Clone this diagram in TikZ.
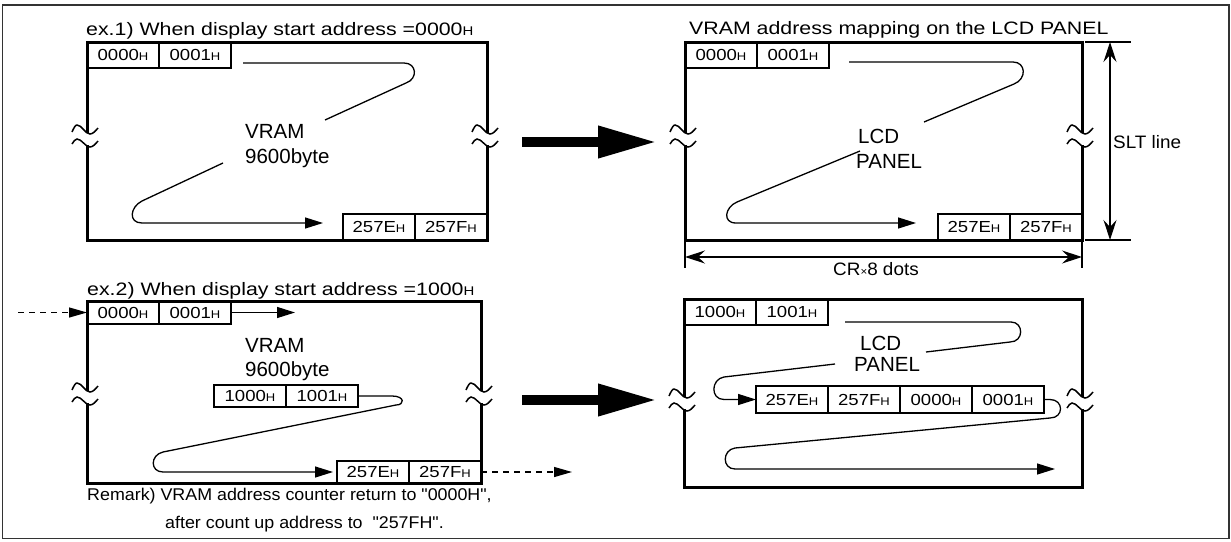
\documentclass[tikz,border=0pt]{standalone}
\usepackage{fontspec}
\usepackage{graphicx}
\setmainfont{Liberation Sans}
\newfontfamily\widef[FakeStretch=1.185]{Liberation Sans}
\newfontfamily\cellf[FakeStretch=1.16]{Liberation Sans}
\newfontfamily\remf[FakeStretch=1.05]{Liberation Sans}
\newfontfamily\dimf[FakeStretch=1.05]{Liberation Sans}
\usetikzlibrary{arrows.meta}
\newcommand{\Hs}{\scalebox{0.7}{H}}
\tikzset{
  brk/.pic={
    \fill[white] (-3,-3.5) rectangle (3,8.5);
    \draw[line width=1.5pt] (-15,-4) sin (-10,-11) cos (-3.5,-6.5) sin (3,-2) cos (11,-8);
    \draw[line width=1.5pt] (-15,8) sin (-10,3) cos (-3.5,7) sin (3,11) cos (11,5);
  }
}
\begin{document}
\begin{tikzpicture}[x=1pt,y=-1pt,
  frame/.style={draw=black!80, line width=1.5pt},
  panelbox/.style={draw, line width=3pt, inner sep=0pt, outer sep=0pt, anchor=north west},
  cell/.style={draw, line width=2.4pt, minimum width=72pt, inner sep=0pt, outer sep=0pt, font=\cellf\fontsize{16}{18}\selectfont},
  ttl/.style={anchor=base west, inner sep=0pt, font=\widef\fontsize{18}{20}\selectfont},
  big/.style={anchor=base west, inner sep=0pt, font=\fontsize{20.5}{22}\selectfont},
  rem/.style={anchor=base west, inner sep=0pt, font=\remf\fontsize{17}{19}\selectfont},
  dimtxt/.style={inner sep=0pt, font=\dimf\fontsize{18}{20}\selectfont},
  flow/.style={line width=1.3pt, line join=round},
  tipped/.style={-{Triangle[length=18pt,width=11pt]}},
  dashflow/.style={line width=1.3pt, dash pattern=on 6pt off 5pt, -{Triangle[length=18pt,width=10pt]}},
  bigarrow/.style={line width=10pt, -{Triangle[length=59pt,width=30pt]}},
  dim/.style={line width=1.2pt},
  dimarrow/.style={line width=1.2pt, {Stealth[length=20pt,width=13pt,inset=7pt]}-{Stealth[length=20pt,width=13pt,inset=7pt]}}
]
\useasboundingbox (0,0) rectangle (1231,541);
\draw[frame] (2.5,5) rectangle (1229,538.5);

% ---------- Panel 1 ----------
\node[panelbox, minimum width=400pt, minimum height=198pt] (P1) at (87,42) {};
\node[cell, minimum height=26pt, anchor=north west] (c1a) at (P1.north west) {0000\Hs};
\node[cell, minimum height=26pt, anchor=north west] (c1b) at (c1a.north east) {0001\Hs};
\node[cell, minimum height=26pt, anchor=south east] (c1z) at (P1.south east) {257F\Hs};
\node[cell, minimum height=26pt, anchor=south east] (c1y) at (c1z.south west) {257E\Hs};
\node[ttl] (t1) at (86,35) {ex.1) When display start address =0000\Hs};
\node[big] (v1) at (245,138) {VRAM};
\node[big] (v1b) at (245,163) {9600byte};
\draw[flow] (243,63) -- (404,63) .. controls (417,63) and (418,79) .. (406,83) -- (325,120);
\draw[flow, tipped] (223,163) -- (142,201) .. controls (130,207) and (128,223) .. (142,223) -- (323,223);
\pic at (87,136) {brk};
\pic at (487,136) {brk};

\coordinate (a1s) at (522,142);
\coordinate (a1e) at (657,142);
\draw[bigarrow] (a1s) -- (a1e);

% ---------- Panel 2 ----------
\node[panelbox, minimum width=397pt, minimum height=198pt] (P2) at (685,42) {};
\node[cell, minimum height=26pt, anchor=north west] (c2a) at (P2.north west) {0000\Hs};
\node[cell, minimum height=26pt, anchor=north west] (c2b) at (c2a.north east) {0001\Hs};
\node[cell, minimum height=26pt, anchor=south east] (c2z) at (P2.south east) {257F\Hs};
\node[cell, minimum height=26pt, anchor=south east] (c2y) at (c2z.south west) {257E\Hs};
\node[ttl] (t2) at (689,34) {VRAM address mapping on the LCD PANEL};
\node[big] (l2) at (858,143) {LCD};
\node[big] (l2b) at (856,168) {PANEL};
\draw[flow] (849,62) -- (1013,62) .. controls (1026,62) and (1027,79) .. (1014,84) -- (924,122);
\draw[flow, tipped] (860,151) -- (737,202) .. controls (725,207) and (722,223) .. (736,223) -- (916,223);
\pic at (685,136) {brk};
\pic at (1082,136) {brk};

% dimensions
\coordinate (s1) at (1085,42);  \coordinate (s1e) at (1131,42);
\coordinate (s2) at (1085,240); \coordinate (s2e) at (1131,240);
\draw[dim] (s1) -- (s1e);
\draw[dim] (s2) -- (s2e);
\coordinate (sa) at (1110,42); \coordinate (sb) at (1110,240);
\draw[dimarrow] (sa) -- (sb);
\node[dimtxt, anchor=west] (slt) at (1113,142) {SLT line};
\coordinate (w1) at (685,240); \coordinate (w1e) at (685,268);
\coordinate (w2) at (1082,240); \coordinate (w2e) at (1082,268);
\draw[dim] (w1) -- (w1e);
\draw[dim] (w2) -- (w2e);
\coordinate (wa) at (685,257); \coordinate (wb) at (1082,257);
\draw[dimarrow] (wa) -- (wb);
\node[dimtxt, anchor=base west] (cr) at (833,275) {CR{\fontsize{11}{11}\selectfont ×}8 dots};

% ---------- Panel 3 ----------
\node[panelbox, minimum width=394pt, minimum height=182pt] (P3) at (87,301) {};
\node[cell, minimum height=23pt, anchor=north west] (c3a) at (P3.north west) {0000\Hs};
\node[cell, minimum height=23pt, anchor=north west] (c3b) at (c3a.north east) {0001\Hs};
\node[cell, minimum height=22pt, anchor=south east] (c3z) at (P3.south east) {257F\Hs};
\node[cell, minimum height=22pt, anchor=south east] (c3y) at (c3z.south west) {257E\Hs};
\node[cell, minimum height=22pt, anchor=north west] (m1) at (214,385) {1000\Hs};
\node[cell, minimum height=22pt, anchor=north west] (m2) at (m1.north east) {1001\Hs};
\node[ttl] (t3) at (87,295) {ex.2) When display start address =1000\Hs};
\node[big] (v3) at (245,352) {VRAM};
\node[big] (v3b) at (245,376) {9600byte};
\coordinate (d1) at (18,312.5);
\draw[dashflow] (d1) -- (c3a.west);
\draw[flow, tipped] (c3b.east) -- ++(64,0);
\draw[flow, tipped] (m2.east) -- (392,396) .. controls (405,396) and (405,405) .. (396,405) -- (163,452) .. controls (150,455) and (150,472) .. (163,472) -- (333,472);
\coordinate (d2) at (572,472);
\draw[dashflow] (c3z.east) -- (d2);
\pic at (87,394) {brk};
\pic at (481,394) {brk};
\node[rem] (r1t) at (87,500) {Remark) VRAM address counter return to "0000H",};
\node[rem] (r2t) at (165,528) {after count up address to \ "257FH".};

\coordinate (a2s) at (522,400);
\coordinate (a2e) at (657,400);
\draw[bigarrow] (a2s) -- (a2e);

% ---------- Panel 4 ----------
\node[panelbox, minimum width=398pt, minimum height=188pt] (P4) at (684,299) {};
\node[cell, minimum height=26pt, anchor=north west] (c4a) at (P4.north west) {1000\Hs};
\node[cell, minimum height=26pt, anchor=north west] (c4b) at (c4a.north east) {1001\Hs};
\node[cell, minimum height=27pt, anchor=north west] (r1) at (756,386) {257E\Hs};
\node[cell, minimum height=27pt, anchor=north west] (r2) at (r1.north east) {257F\Hs};
\node[cell, minimum height=27pt, anchor=north west] (r3) at (r2.north east) {0000\Hs};
\node[cell, minimum height=27pt, anchor=north west] (r4) at (r3.north east) {0001\Hs};
\node[big] (l4) at (860,350) {LCD};
\node[big] (l4b) at (854,371) {PANEL};
\draw[flow] (845,322) -- (1011,322) .. controls (1024,322) and (1024,342) .. (1010,342) -- (926,352);
\draw[flow, tipped] (835,364) -- (724,377) .. controls (711,379) and (710,399.5) .. (724,399.5) -- (r1.west);
\draw[flow, tipped] (r4.east) -- (1050,399.5) .. controls (1064,399.5) and (1064,418) .. (1050,418) -- (735,448) .. controls (722,450) and (722,469) .. (735,469) -- (1055,469);
\pic at (684,400) {brk};
\pic at (1082,400) {brk};
\end{tikzpicture}
\end{document}
